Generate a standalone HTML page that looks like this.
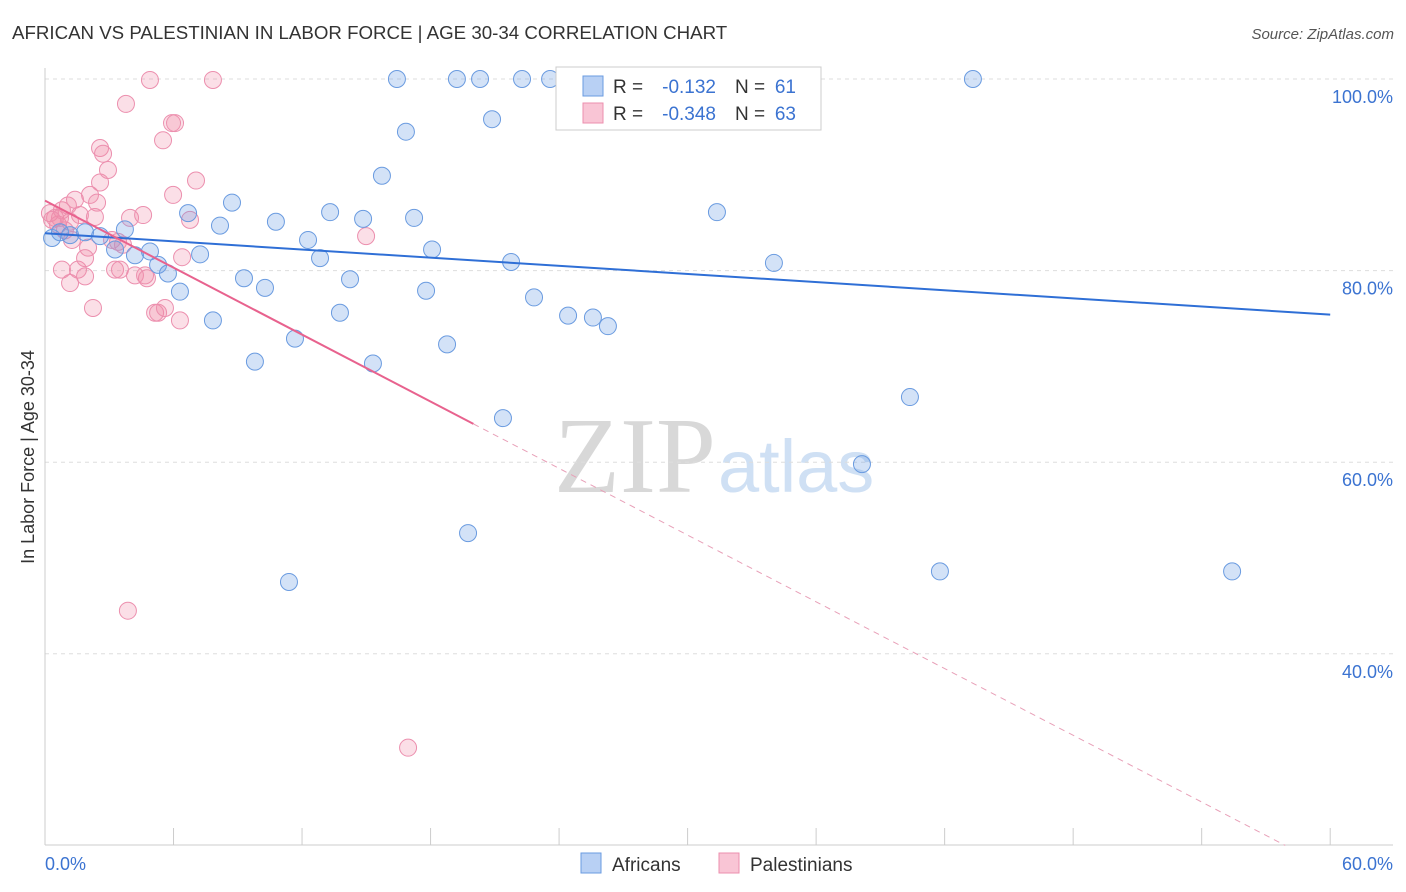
<!DOCTYPE html>
<html><head><meta charset="utf-8"><style>
body{margin:0;background:#fff;font-family:"Liberation Sans",sans-serif;}
svg{display:block}
</style></head><body>
<svg id="c" width="1406" height="892">
<text x="12" y="39" font-size="18.7" fill="#333">AFRICAN VS PALESTINIAN IN LABOR FORCE | AGE 30-34 CORRELATION CHART</text>
<text x="1394" y="39" font-size="15" fill="#555" font-style="italic" text-anchor="end">Source: ZipAtlas.com</text>
<text x="716" y="492" font-size="108" fill="#d8d8d8" font-family="Liberation Serif,serif" text-anchor="end">ZIP</text>
<text x="718" y="492" font-size="74" fill="#cfe0f4">atlas</text>
<text transform="translate(34,457) rotate(-90)" font-size="18" fill="#333" text-anchor="middle">In Labor Force | Age 30-34</text>
<g id="grid"></g><g id="marks"></g><g id="lines"></g>
<g>
<rect x="556" y="67" width="265" height="63" fill="#fff" stroke="#ccc"/>
<rect x="583" y="76" width="20" height="20" fill="#b8d0f4" stroke="#6a9be0"/>
<text x="613" y="93" font-size="19" fill="#333">R =</text>
<text x="716" y="93" font-size="19" fill="#3b73d1" text-anchor="end">-0.132</text>
<text x="735" y="93" font-size="19" fill="#333">N =</text>
<text x="796" y="93" font-size="19" fill="#3b73d1" text-anchor="end">61</text>
<rect x="583" y="103" width="20" height="20" fill="#f9c5d5" stroke="#ec8fae"/>
<text x="613" y="120" font-size="19" fill="#333">R =</text>
<text x="716" y="120" font-size="19" fill="#3b73d1" text-anchor="end">-0.348</text>
<text x="735" y="120" font-size="19" fill="#333">N =</text>
<text x="796" y="120" font-size="19" fill="#3b73d1" text-anchor="end">63</text>
</g>
<g>
<rect x="581" y="853" width="20" height="20" fill="#b8d0f4" stroke="#6a9be0"/>
<text x="612" y="871" font-size="19" fill="#333">Africans</text>
<rect x="719" y="853" width="20" height="20" fill="#f9c5d5" stroke="#ec8fae"/>
<text x="750" y="871" font-size="19" fill="#333">Palestinians</text>
</g>
</svg>
<script>
const blueX=[.33,.7,1.17,1.87,2.57,3.27,3.73,4.2,4.9,5.28,5.74,6.3,6.68,7.24,7.84,8.17,8.73,9.29,9.8,10.27,10.78,11.67,11.39,12.28,12.84,13.31,13.77,14.24,14.85,15.31,15.73,16.43,16.85,17.23,17.79,18.07,18.77,19.23,19.75,20.31,20.87,21.38,21.76,22.27,22.83,23.58,24.42,25.58,26.28,31.37,34.03,35.34,38.14,40.38,41.78,43.32,55.42];
const blueY=[83.4,84,83.7,84,83.6,82.2,84.3,81.6,82,80.6,79.7,77.8,86,81.7,74.8,84.7,87.1,79.2,70.5,78.2,85.1,72.9,47.5,83.2,81.3,86.1,75.6,79.1,85.4,70.3,89.9,100,94.5,85.5,77.9,82.2,72.3,100,52.6,100,95.8,64.6,80.9,100,77.2,100,75.3,75.1,74.2,86.1,80.8,100,59.8,66.8,48.6,100,48.6];
const pinkX=[.23,.47,.61,.79,.93,1.07,1.17,.79,1.17,1.4,1.54,1.63,1.87,2.01,2.1,2.24,2.33,2.43,2.57,2.57,2.71,2.94,3.13,3.27,3.41,3.5,3.64,3.78,3.87,3.97,4.2,4.58,4.67,4.76,4.9,5.14,5.28,5.51,5.6,5.93,6.07,5.98,6.3,6.4,6.77,7.05,7.84,14.99,16.95,.7,1.26,1.87,.33];
const pinkY=[86,85.5,84.8,86.3,84.2,86.8,85.1,80.1,78.7,87.4,80.1,85.8,79.4,82.4,87.9,76.1,85.6,87.1,89.2,92.8,92.2,90.5,83.2,80.1,83,80.1,82.7,97.4,44.5,85.5,79.5,85.8,79.5,79.2,99.9,75.6,75.6,93.6,76.1,95.4,95.4,87.9,74.8,81.4,85.3,89.4,99.9,83.6,30.2,85.5,83.2,81.3,85.3];
const yTicks=[100,80,60,40];
const yTickLabels=["100.0%","80.0%","60.0%","40.0%"];
const xTicks=[0,6,12,18,24,30,36,42,48,54,60];
const blueTrend=[0,83.9,60,75.4];
const pinkTrend=[0,87.3,20,64.0,57.9,20];
const NS="http://www.w3.org/2000/svg";
const X=v=>45+v*21.42, Y=v=>79+(100-v)*9.58;
function mk(p,t,a){const e=document.createElementNS(NS,t);for(const k in a)e.setAttribute(k,a[k]);p.appendChild(e);return e;}
const g=document.getElementById('grid');
yTicks.forEach((t,i)=>{
 const l=mk(g,'line',{x1:45,x2:1393,y1:Y(t),y2:Y(t),stroke:'#ddd','stroke-dasharray':'4,4'});
 
 
 const tx=mk(g,'text',{x:1393,y:Y(t)+24,'font-size':18,fill:'#3b73d1','text-anchor':'end'});
 tx.textContent=yTickLabels[i];
 
 
});
mk(g,'line',{x1:45,x2:45,y1:68,y2:845,stroke:'#ccc'});
mk(g,'line',{x1:45,x2:1393,y1:845,y2:845,stroke:'#ccc'});
xTicks.forEach(t=>{const l=mk(g,'line',{x1:X(t),x2:X(t),y1:828,y2:845,stroke:'#ccc'});
 
 });
const a=mk(g,'text',{x:45,y:870,'font-size':18,fill:'#3b73d1'});a.textContent='0.0%';


const b=mk(g,'text',{x:1393,y:870,'font-size':18,fill:'#3b73d1','text-anchor':'end'});b.textContent='60.0%';


const m=document.getElementById('marks');
pinkX.forEach((x,i)=>{const c=mk(m,'circle',{cx:X(x),cy:Y(pinkY[i]),r:8.5,fill:'rgba(240,140,170,0.28)',stroke:'#ec8fae','stroke-width':1});
 
 });
blueX.forEach((x,i)=>{const c=mk(m,'circle',{cx:X(x),cy:Y(blueY[i]),r:8.5,fill:'rgba(110,160,230,0.3)',stroke:'#6a9be0','stroke-width':1});
 
 });
const L=document.getElementById('lines');
const bl=mk(L,'line',{x1:X(blueTrend[0]),y1:Y(blueTrend[1]),x2:X(blueTrend[2]),y2:Y(blueTrend[3]),stroke:'#2f6fd6','stroke-width':2});


const pl=mk(L,'line',{x1:X(pinkTrend[0]),y1:Y(pinkTrend[1]),x2:X(pinkTrend[2]),y2:Y(pinkTrend[3]),stroke:'#e8628e','stroke-width':2});


const pd=mk(L,'line',{x1:X(pinkTrend[2]),y1:Y(pinkTrend[3]),x2:X(pinkTrend[4]),y2:Y(pinkTrend[5]),stroke:'#e8a0b8','stroke-width':1,'stroke-dasharray':'6,5'});


</script>
</body></html>
